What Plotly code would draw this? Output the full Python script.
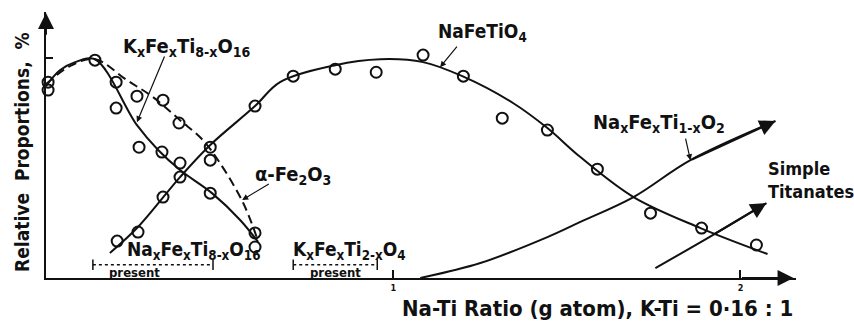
import plotly.graph_objects as go

# ---- measured proportions (x = Na-Ti ratio, y = relative proportion %) ----
k_pts_x = [0.006, 0.141, 0.202, 0.268, 0.334, 0.386, 0.473, 0.602]
k_pts_y = [85.5, 99.1, 77.3, 59.5, 57.3, 52.3, 38.6, 14.1]

fe_pts_x = [0.006, 0.202, 0.262, 0.337, 0.383, 0.473, 0.602]
fe_pts_y = [89.1, 89.1, 82.7, 80.9, 70.5, 53.6, 20.5]

nafe_pts_x = [0.205, 0.265, 0.337, 0.386, 0.473, 0.602, 0.712, 0.833, 0.951,
              1.086, 1.202, 1.314, 1.444, 1.588, 1.741, 1.888, 2.046]
nafe_pts_y = [16.8, 20.9, 36.8, 45.9, 59.5, 78.2, 91.8, 95.0, 93.6,
              101.4, 91.8, 72.7, 67.3, 49.5, 29.5, 22.7, 15.0]

# ---- fitted curves ----
k_fit_x = [0.0, 0.040, 0.084, 0.141, 0.262, 0.323, 0.386, 0.478, 0.559, 0.611]
k_fit_y = [87.3, 94.5, 98.2, 99.5, 69.5, 58.2, 49.1, 38.6, 26.4, 16.4]

fe_fit_x = [0.0, 0.069, 0.141, 0.233, 0.308, 0.386, 0.452, 0.501, 0.568, 0.607]
fe_fit_y = [88.2, 96.4, 99.5, 90.0, 82.3, 71.8, 62.7, 52.3, 34.1, 18.5]

nafe_fit_x = [0.184, 0.265, 0.386, 0.473, 0.602, 0.674, 0.833, 0.963, 1.086,
              1.199, 1.346, 1.444, 1.539, 1.692, 1.885, 2.078]
nafe_fit_y = [11.4, 23.2, 45.9, 60.5, 78.2, 89.1, 96.8, 99.5, 98.2,
              91.8, 79.5, 68.2, 55.0, 36.8, 22.7, 10.9]

na_ti1_x = [1.078, 1.251, 1.444, 1.539, 1.692, 1.856, 2.101]
na_ti1_y = [0.0, 6.8, 18.6, 25.5, 36.8, 53.6, 71.4]

simple_x = [1.755, 1.919, 2.075]
simple_y = [4.5, 19.4, 34.1]

# ranges over which phases are present
present_na8 = [0.135, 0.481]
present_k2 = [0.712, 0.954]

x_ticks = [1, 2]
x_tick_text = ["1", "2"]
y_ticks = [100]

FONT = "DejaVu Sans Condensed, DejaVu Sans, sans-serif"
INK = "#111111"

fig = go.Figure()

def curve(x, y, dash="solid"):
    fig.add_trace(go.Scatter(x=x, y=y, mode="lines",
                             line=dict(color=INK, width=2, dash=dash,
                                       shape="spline", smoothing=1.0),
                             hoverinfo="skip", cliponaxis=False))

def points(x, y):
    fig.add_trace(go.Scatter(x=x, y=y, mode="markers",
                             marker=dict(symbol="circle-open", size=11,
                                         color=INK, line=dict(width=2, color=INK)),
                             hoverinfo="skip", cliponaxis=False))

curve(k_fit_x, k_fit_y)
curve(fe_fit_x, fe_fit_y, dash="9px,5px")
curve(nafe_fit_x, nafe_fit_y)
curve(na_ti1_x, na_ti1_y)
curve(simple_x, simple_y)
points(k_pts_x, k_pts_y)
points(fe_pts_x, fe_pts_y)
points(nafe_pts_x, nafe_pts_y)

ann = []

def arrow(x0, y0, x1, y1, size=1.0, width=1.2, head=2):
    ann.append(dict(x=x1, y=y1, ax=x0, ay=y0, xref="x", yref="y",
                    axref="x", ayref="y", text="", showarrow=True,
                    arrowhead=head, arrowsize=size, arrowwidth=width,
                    arrowcolor=INK, standoff=0, startstandoff=0))

def label(x, y, text, size=18, anchor="left"):
    ann.append(dict(x=x, y=y, xref="x", yref="y", text=text, showarrow=False,
                    xanchor=anchor, yanchor="middle",
                    font=dict(family=FONT, size=size, color=INK, weight="bold")))

# leader arrows to curves
arrow(0.343, 101.4, 0.262, 70.9)
arrow(1.187, 105.9, 1.135, 95.9)
arrow(1.841, 64.1, 1.856, 53.6)
arrow(0.646, 43.2, 0.565, 35.5)

# arrow heads at curve ends
arrow(na_ti1_x[-2], na_ti1_y[-2], na_ti1_x[-1], na_ti1_y[-1], size=1.6, width=2)
arrow(simple_x[-2], simple_y[-2], simple_x[-1], simple_y[-1], size=1.6, width=2)

# axis arrows
arrow(2.0, 0, 2.153, 0, size=1.6, width=2)
arrow(0, 110, 0, 120.5, size=1.6, width=2)

label(0.216, 105, "K<sub>x</sub>Fe<sub>x</sub>Ti<sub>8-x</sub>O<sub>16</sub>", 20)
label(1.124, 111.8, "NaFeTiO<sub>4</sub>", 19)
label(1.570, 70.5, "Na<sub>x</sub>Fe<sub>x</sub>Ti<sub>1-x</sub>O<sub>2</sub>", 20)
label(0.597, 46.8, "α-Fe<sub>2</sub>O<sub>3</sub>", 20)
label(0.228, 12.7, "Na<sub>x</sub>Fe<sub>x</sub>Ti<sub>8-x</sub>O<sub>16</sub>", 19)
label(0.706, 12.7, "K<sub>x</sub>Fe<sub>x</sub>Ti<sub>2-x</sub>O<sub>4</sub>", 19)
ann.append(dict(x=2.075, y=44.5, xref="x", yref="y", text="Simple<br>Titanates",
                showarrow=False, xanchor="left", yanchor="middle", align="left",
                font=dict(family=FONT, size=18, color=INK, weight="bold")))
for xc in (present_na8[0] + 0.12, (present_k2[0] + present_k2[1]) / 2):
    ann.append(dict(x=xc, y=2.6, xref="x", yref="y", text="present", showarrow=False,
                    xanchor="center", yanchor="middle",
                    font=dict(family=FONT, size=13, color=INK, weight="bold")))

# axis titles
ann.append(dict(x=0.735, y=-0.113, xref="paper", yref="paper",
                text="Na-Ti Ratio (g atom), K-Ti = 0·16 : 1",
                showarrow=False, xanchor="center", yanchor="middle",
                font=dict(family=FONT, size=22, color=INK, weight="bold")))
ann.append(dict(x=-0.032, y=0.474, xref="paper", yref="paper",
                text="Relative  Proportions,  %", textangle=-90,
                showarrow=False, xanchor="center", yanchor="middle",
                font=dict(family=FONT, size=19, color=INK, weight="bold")))

shapes = []
for rng in (present_na8, present_k2):
    shapes.append(dict(type="line", xref="x", yref="y", x0=rng[0], x1=rng[1],
                       y0=6.0, y1=6.0, line=dict(color=INK, width=1.5, dash="dot")))
    for xe in rng:
        shapes.append(dict(type="line", xref="x", yref="y", x0=xe, x1=xe,
                           y0=3.6, y1=8.4, line=dict(color=INK, width=1.5)))

fig.update_layout(
    width=854, height=323,
    margin=dict(l=46, r=58, t=12, b=45),
    paper_bgcolor="white", plot_bgcolor="white",
    showlegend=False,
    annotations=ann, shapes=shapes,
    font=dict(family=FONT, color=INK),
    xaxis=dict(range=[0, 2.16], showgrid=False, zeroline=False,
               showline=True, linecolor=INK, linewidth=2,
               ticks="inside", ticklen=8, tickwidth=1.5, tickcolor=INK,
               tickvals=x_ticks, ticktext=x_tick_text,
               tickfont=dict(family=FONT, size=9, color=INK, weight="bold")),
    yaxis=dict(range=[0, 121], showgrid=False, zeroline=False,
               showline=True, linecolor=INK, linewidth=2,
               ticks="inside", ticklen=7, tickwidth=1.5, tickcolor=INK,
               tickvals=y_ticks, showticklabels=False),
)

fig.write_html("out.html")
